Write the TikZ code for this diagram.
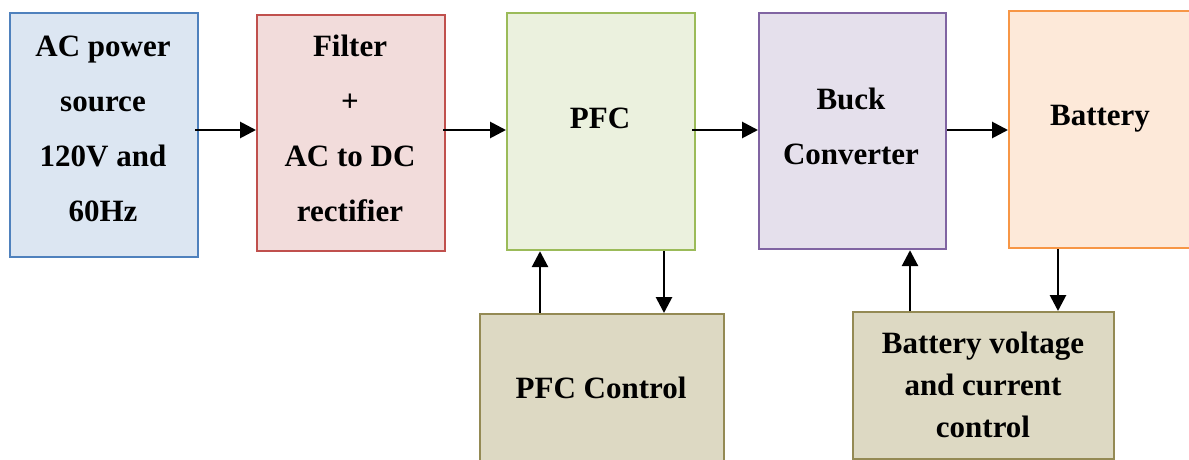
\documentclass[tikz,border=0pt]{standalone}
\usepackage{fontspec}
\setmainfont{Liberation Serif}
\usetikzlibrary{arrows.meta}
\definecolor{bluefill}{HTML}{DCE6F2}
\definecolor{blueline}{HTML}{4F81BD}
\definecolor{redfill}{HTML}{F2DCDB}
\definecolor{redline}{HTML}{C0504D}
\definecolor{greenfill}{HTML}{EBF1DE}
\definecolor{greenline}{HTML}{9BBB59}
\definecolor{purplefill}{HTML}{E5E0EC}
\definecolor{purpleline}{HTML}{8064A2}
\definecolor{orangefill}{HTML}{FDE9D9}
\definecolor{orangeline}{HTML}{F79646}
\definecolor{olivefill}{HTML}{DDD9C3}
\definecolor{oliveline}{HTML}{948A54}
\tikzset{
  blockbox/.style={draw, line width=2.2pt, inner sep=0pt, anchor=north west},
  lbl/.style={align=center, inner sep=0pt, font=\fontsize{31}{55}\selectfont\bfseries},
  lblsmall/.style={align=center, inner sep=0pt, font=\fontsize{31}{42}\selectfont\bfseries},
  arr/.style={-{Triangle[length=16pt,width=16pt]}, line width=2.8pt, black}
}
\begin{document}
\begin{tikzpicture}[x=1pt,y=-1pt]
\useasboundingbox (0,0) rectangle (1189,460);
\clip (0,0) rectangle (1189,460);
\node[blockbox, fill=bluefill, draw=blueline, minimum width=188pt, minimum height=244pt] (ac) at (9,12) {};
\node[blockbox, fill=redfill, draw=redline, minimum width=188pt, minimum height=236pt] (filt) at (256,14) {};
\node[blockbox, fill=greenfill, draw=greenline, minimum width=188pt, minimum height=237pt] (pfc) at (506,12) {};
\node[blockbox, fill=purplefill, draw=purpleline, minimum width=187pt, minimum height=236pt] (buck) at (758,12) {};
\node[blockbox, fill=orangefill, draw=orangeline, minimum width=190pt, minimum height=237pt] (batt) at (1008,10) {};
\node[blockbox, fill=olivefill, draw=oliveline, minimum width=244pt, minimum height=155pt] (pfcc) at (479,313) {};
\node[blockbox, fill=olivefill, draw=oliveline, minimum width=261pt, minimum height=147pt] (bvc) at (852,311) {};

\node[lbl] (tac) at (103,129) {AC power\\source\\120V and\\60Hz};
\node[lbl] (tfilt) at (350,128) {Filter\\+\\AC to DC\\rectifier};
\node[lbl] (tpfc) at (600,118) {PFC};
\node[lbl] (tbuck) at (851,126) {Buck\\Converter};
\node[lbl] (tbatt) at (1100,119) {Battery};
\node[lbl] (tpfcc) at (601,388) {PFC Control};
\node[lblsmall] (tbvc) at (983,385) {Battery voltage\\and current\\control};

\draw[arr] ([xshift=-4pt]ac.east |- 0,130) -- (filt.west |- 0,130);
\draw[arr] ([xshift=-3pt]filt.east |- 0,130) -- (pfc.west |- 0,130);
\draw[arr] ([xshift=-4pt]pfc.east |- 0,130) -- (buck.west |- 0,130);
\draw[arr] (buck.east |- 0,130) -- (batt.west |- 0,130);

\coordinate (u1) at (540,0);
\coordinate (d1) at (664,0);
\coordinate (u2) at (910,0);
\coordinate (d2) at (1058,0);
\draw[arr] (u1 |- pfcc.north) -- (u1 |- pfc.south);
\draw[arr] (d1 |- pfc.south) -- (d1 |- pfcc.north);
\draw[arr] (u2 |- bvc.north) -- (u2 |- buck.south);
\draw[arr] (d2 |- batt.south) -- (d2 |- bvc.north);
\end{tikzpicture}
\end{document}
